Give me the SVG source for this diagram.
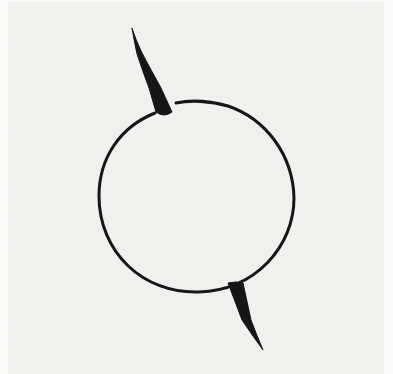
<svg xmlns="http://www.w3.org/2000/svg" width="393" height="374" viewBox="0 0 393 374">
  <defs>
    <filter id="paper" x="0" y="0" width="100%" height="100%">
      <feTurbulence type="fractalNoise" baseFrequency="0.9" numOctaves="2" seed="3" result="n"/>
      <feColorMatrix in="n" type="matrix" values="0 0 0 0 0.9  0 0 0 0 0.9  0 0 0 0 0.88  0 0 0 0.3 0" result="c"/>
      <feComposite in="c" in2="SourceGraphic" operator="in" result="t"/>
      <feMerge><feMergeNode in="SourceGraphic"/><feMergeNode in="t"/></feMerge>
    </filter>
    <filter id="soft"><feGaussianBlur stdDeviation="0.5"/></filter>
  </defs>
  <style>
    .line { fill: none; stroke: #161616; stroke-width: 3; stroke-linecap: round; }
    .spike { fill: #141414; stroke: #141414; stroke-width: 1; stroke-linejoin: round; }
  </style>
  <rect x="0" y="0" width="393" height="374" fill="#fbfbfa"/>
  <rect x="8" y="2" width="376" height="372" fill="#f1f0ed" filter="url(#paper)"/>
  <g id="circle" filter="url(#soft)">
    <path class="line" d="M176,103 C190,100 210,101 228,106 C266,119 293,155 294,198 C294,246 256,290 199,292 C143,294 99,252 99,196 C99,158 120,127 155,113"/>
  </g>
  <g id="top-spike" filter="url(#soft)">
    <path class="spike" d="M132,28 Q134,40 137,54 Q143,72 149,88 L156,112 Q164,118 172,112 L161,88 Q151,70 142,53 Q135,38 132,28 Z"/>
  </g>
  <g id="bottom-spike" filter="url(#soft)">
    <path class="spike" d="M228,283 Q236,281 243,283 L251,320 Q257,336 263,350 Q252,335 242,320 Z"/>
  </g>
</svg>
